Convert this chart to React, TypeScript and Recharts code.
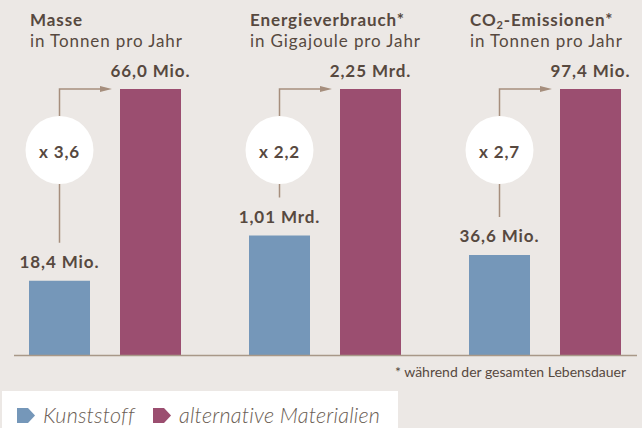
import React from 'react';
import { BarChart, Bar, XAxis, YAxis, LabelList, Legend, ReferenceLine } from 'recharts';

const categories = ['Masse', 'Energieverbrauch*', 'CO₂-Emissionen*'];
const unitLines = ['in Tonnen pro Jahr', 'in Gigajoule pro Jahr', 'in Tonnen pro Jahr'];
const kunststoffValues = [18.4, 1.01, 36.6];
const alternativeValues = [66.0, 2.25, 97.4];
const kunststoffLabels = ['18,4 Mio.', '1,01 Mrd.', '36,6 Mio.'];
const alternativeLabels = ['66,0 Mio.', '2,25 Mrd.', '97,4 Mio.'];
const factorLabels = ['x 3,6', 'x 2,2', 'x 2,7'];
const seriesNames = ['Kunststoff', 'alternative Materialien'];
const footnote = '* während der gesamten Lebensdauer';

const data = categories.map((name, i) => ({
  name,
  k: (kunststoffValues[i] / alternativeValues[i]) * 100,
  a: (alternativeValues[i] / alternativeValues[i]) * 100,
}));

const BG = '#ECE8E5';
const BLUE = '#7597B9';
const PURPLE = '#9B4E70';
const TEXT = '#57493F';
const ARROW = '#A68E7D';
const AXIS = '#A89888';
const FONT = 'Lato, "Open Sans", sans-serif';
const LS = 0.9;
const BAR_GAP = 30;

const Title = ({ left, i }: { left: number; i: number }) => {
  const title: string = categories[i];
  const parts = title.split('₂');
  return (
    <g>
      <text x={left} y={26} fill={TEXT} fontFamily={FONT} fontSize={17} fontWeight={700} letterSpacing={LS}>
        {parts.length > 1 ? (
          <>
            {parts[0]}
            <tspan fontSize={11} dy={3}>2</tspan>
            <tspan dy={-3}>{parts[1]}</tspan>
          </>
        ) : (
          title
        )}
      </text>
      <text x={left} y={47} fill={TEXT} fontFamily={FONT} fontSize={17} fontWeight={400} letterSpacing={LS}>
        {unitLines[i]}
      </text>
    </g>
  );
};

const KunststoffMarks = (props: any) => {
  const vb = props.viewBox || {};
  const x = Number(props.x ?? vb.x);
  const y = Number(props.y ?? vb.y);
  const width = Number(props.width ?? vb.width);
  const height = Number(props.height ?? vb.height);
  const index = props.index;
  const cx = x + width / 2;
  const ratio = alternativeValues[index] / kunststoffValues[index];
  const bottom = y + height;
  const topA = bottom - height * ratio;
  const purpleLeft = x + width + BAR_GAP;
  const tipX = purpleLeft - 8;
  return (
    <g>
      <Title left={x + 1} i={index} />
      <text x={cx} y={y - 13} textAnchor="middle" fill={TEXT} fontFamily={FONT} fontSize={17} fontWeight={700} letterSpacing={LS}>
        {kunststoffLabels[index]}
      </text>
      <path d={`M${cx},${y - 38}V${topA}H${tipX - 11}`} stroke={ARROW} strokeWidth={1.5} fill="none" />
      <polygon points={`${tipX - 12},${topA - 3} ${tipX},${topA} ${tipX - 12},${topA + 3}`} fill={ARROW} />
      <circle cx={cx} cy={150} r={34} fill="#FFFFFF" />
      <text x={cx} y={151} textAnchor="middle" dominantBaseline="central" fill={TEXT} fontFamily={FONT} fontSize={17} fontWeight={700} letterSpacing={LS}>
        {factorLabels[index]}
      </text>
    </g>
  );
};

const AlternativeLabel = (props: any) => {
  const vb = props.viewBox || {};
  const x = Number(props.x ?? vb.x);
  const y = Number(props.y ?? vb.y);
  const width = Number(props.width ?? vb.width);
  const index = props.index;
  return (
    <text x={x + width / 2} y={y - 12} textAnchor="middle" fill={TEXT} fontFamily={FONT} fontSize={17} fontWeight={700} letterSpacing={LS}>
      {alternativeLabels[index]}
    </text>
  );
};

const BaselineShape = (props: any) => {
  const y = Number(props.y1);
  return (
    <g>
      <line x1={19} x2={642} y1={y + 0.5} y2={y + 0.5} stroke={AXIS} strokeWidth={1.6} />
      <text x={631} y={y + 22} textAnchor="end" fill={TEXT} fontFamily={FONT} fontSize={14}>
        {footnote}
      </text>
    </g>
  );
};

const LegendContent = (props: any) => {
  const payload = props.payload || [];
  let cursor = 15;
  const items = payload.map((p: any, i: number) => {
    const label = String(p.value);
    const x0 = cursor;
    const textW = label.length * 9.0;
    cursor = x0 + 26 + textW + 20;
    return (
      <g key={i}>
        <polygon points={`${x0},17 ${x0 + 11},17 ${x0 + 18},24.5 ${x0 + 11},32 ${x0},32`} fill={p.color} />
        <text x={x0 + 26} y={32} fill="#6B5E55" fontFamily={FONT} fontSize={21.5} fontStyle="italic" fontWeight={300} letterSpacing={0.2}>
          {label}
        </text>
      </g>
    );
  });
  return (
    <svg width={396} height={37} style={{ display: 'block' }}>
      {items}
    </svg>
  );
};

export default function App() {
  return (
    <div style={{ position: 'absolute', left: 0, top: 0, width: 642, height: 428, background: BG, overflow: 'hidden' }}>
      <div style={{ position: 'absolute', left: -5, top: 0 }}>
        <BarChart
          width={660}
          height={428}
          data={data}
          margin={{ top: 89, right: 0, bottom: 73, left: 0 }}
          barGap={BAR_GAP}
          barSize={61}
        >
          <XAxis dataKey="name" hide height={0} />
          <YAxis hide width={0} domain={[0, 100]} />
          <ReferenceLine y={0} shape={(p: any) => <BaselineShape {...p} />} />
          <Bar dataKey="k" name={seriesNames[0]} fill={BLUE} isAnimationActive={false}>
            <LabelList dataKey="k" content={(p: any) => <KunststoffMarks {...p} />} />
          </Bar>
          <Bar dataKey="a" name={seriesNames[1]} fill={PURPLE} isAnimationActive={false}>
            <LabelList dataKey="a" content={(p: any) => <AlternativeLabel {...p} />} />
          </Bar>
          <Legend
            layout="horizontal"
            verticalAlign="middle"
            align="center"
            content={<LegendContent />}
            wrapperStyle={{ position: 'absolute', left: 7, top: 391, width: 396, height: 37, background: '#FFFFFF', margin: 0, padding: 0 }}
          />
        </BarChart>
      </div>
    </div>
  );
}
